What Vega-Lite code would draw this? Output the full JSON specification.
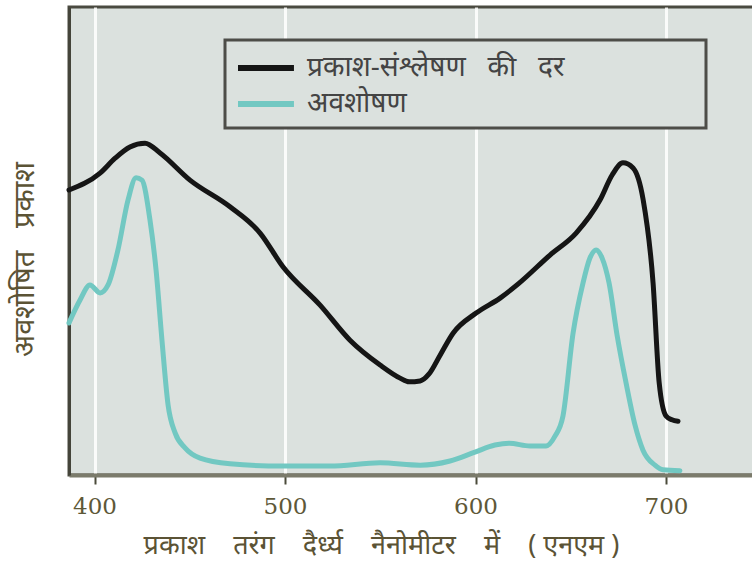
{
  "$schema": "https://vega.github.io/schema/vega-lite/v6.json",
  "autosize": {"type": "none"},
  "width": 690,
  "height": 468,
  "padding": {"left": 69, "top": 7, "right": 0, "bottom": 91},
  "background": "#ffffff",
  "config": {
    "view": {"fill": "#dbe1de", "stroke": "#4a4a40", "strokeWidth": 3},
    "font": "Noto Sans",
    "legend": {"strokeWidth": 3}
  },
  "data": {"values": [
    {"nm": 386.6, "v": 60.9, "s": "प्रकाश-संश्लेषण की दर"},
    {"nm": 402.9, "v": 64.5, "s": "प्रकाश-संश्लेषण की दर"},
    {"nm": 410.8, "v": 67.7, "s": "प्रकाश-संश्लेषण की दर"},
    {"nm": 418.6, "v": 70.1, "s": "प्रकाश-संश्लेषण की दर"},
    {"nm": 426.5, "v": 70.9, "s": "प्रकाश-संश्लेषण की दर"},
    {"nm": 434.4, "v": 68.8, "s": "प्रकाश-संश्लेषण की दर"},
    {"nm": 450.1, "v": 63.0, "s": "प्रकाश-संश्लेषण की दर"},
    {"nm": 471.1, "v": 57.3, "s": "प्रकाश-संश्लेषण की दर"},
    {"nm": 486.9, "v": 51.7, "s": "प्रकाश-संश्लेषण की दर"},
    {"nm": 498.9, "v": 44.5, "s": "प्रकाश-संश्लेषण की दर"},
    {"nm": 518.4, "v": 36.3, "s": "प्रकाश-संश्लेषण की दर"},
    {"nm": 534.1, "v": 28.8, "s": "प्रकाश-संश्लेषण की दर"},
    {"nm": 549.9, "v": 23.5, "s": "प्रकाश-संश्लेषण की दर"},
    {"nm": 560.4, "v": 20.7, "s": "प्रकाश-संश्लेषण की दर"},
    {"nm": 565.1, "v": 19.9, "s": "प्रकाश-संश्लेषण की दर"},
    {"nm": 570.9, "v": 20.1, "s": "प्रकाश-संश्लेषण की दर"},
    {"nm": 575.6, "v": 21.6, "s": "प्रकाश-संश्लेषण की दर"},
    {"nm": 581.4, "v": 25.6, "s": "प्रकाश-संश्लेषण की दर"},
    {"nm": 588.2, "v": 30.3, "s": "प्रकाश-संश्लेषण की दर"},
    {"nm": 600.3, "v": 34.6, "s": "प्रकाश-संश्लेषण की दर"},
    {"nm": 612.9, "v": 37.8, "s": "प्रकाश-संश्लेषण की दर"},
    {"nm": 622.9, "v": 41.0, "s": "प्रकाश-संश्लेषण की दर"},
    {"nm": 639.1, "v": 47.0, "s": "प्रकाश-संश्लेषण की दर"},
    {"nm": 652.8, "v": 51.7, "s": "प्रकाश-संश्लेषण की दर"},
    {"nm": 665.4, "v": 58.8, "s": "प्रकाश-संश्लेषण की दर"},
    {"nm": 671.7, "v": 64.1, "s": "प्रकाश-संश्लेषण की दर"},
    {"nm": 677.4, "v": 66.7, "s": "प्रकाश-संश्लेषण की दर"},
    {"nm": 682.7, "v": 65.6, "s": "प्रकाश-संश्लेषण की दर"},
    {"nm": 688.0, "v": 58.8, "s": "प्रकाश-संश्लेषण की दर"},
    {"nm": 693.2, "v": 41.0, "s": "प्रकाश-संश्लेषण की दर"},
    {"nm": 696.4, "v": 19.7, "s": "प्रकाश-संश्लेषण की दर"},
    {"nm": 700.0, "v": 12.6, "s": "प्रकाश-संश्लेषण की दर"},
    {"nm": 703.1, "v": 11.8, "s": "प्रकाश-संश्लेषण की दर"},
    {"nm": 706.3, "v": 11.5, "s": "प्रकाश-संश्लेषण की दर"},
    {"nm": 386.6, "v": 32.5, "s": "अवशोषण"},
    {"nm": 392.4, "v": 37.4, "s": "अवशोषण"},
    {"nm": 397.6, "v": 40.6, "s": "अवशोषण"},
    {"nm": 402.9, "v": 38.9, "s": "अवशोषण"},
    {"nm": 407.1, "v": 40.6, "s": "अवशोषण"},
    {"nm": 412.3, "v": 48.1, "s": "अवशोषण"},
    {"nm": 417.6, "v": 58.8, "s": "अवशोषण"},
    {"nm": 421.8, "v": 63.5, "s": "अवशोषण"},
    {"nm": 424.9, "v": 63.0, "s": "अवशोषण"},
    {"nm": 429.1, "v": 54.5, "s": "अवशोषण"},
    {"nm": 432.3, "v": 43.8, "s": "अवशोषण"},
    {"nm": 435.4, "v": 28.8, "s": "अवशोषण"},
    {"nm": 438.6, "v": 15.0, "s": "अवशोषण"},
    {"nm": 442.3, "v": 9.0, "s": "अवशोषण"},
    {"nm": 447.5, "v": 5.8, "s": "अवशोषण"},
    {"nm": 455.4, "v": 3.6, "s": "अवशोषण"},
    {"nm": 471.1, "v": 2.4, "s": "अवशोषण"},
    {"nm": 498.9, "v": 1.9, "s": "अवशोषण"},
    {"nm": 523.6, "v": 1.9, "s": "अवशोषण"},
    {"nm": 549.9, "v": 2.6, "s": "अवशोषण"},
    {"nm": 570.9, "v": 2.1, "s": "अवशोषण"},
    {"nm": 586.6, "v": 3.0, "s": "अवशोषण"},
    {"nm": 599.7, "v": 4.9, "s": "अवशोषण"},
    {"nm": 610.2, "v": 6.4, "s": "अवशोषण"},
    {"nm": 617.6, "v": 6.8, "s": "अवशोषण"},
    {"nm": 628.6, "v": 6.2, "s": "अवशोषण"},
    {"nm": 637.0, "v": 6.2, "s": "अवशोषण"},
    {"nm": 641.7, "v": 8.3, "s": "अवशोषण"},
    {"nm": 645.9, "v": 12.6, "s": "अवशोषण"},
    {"nm": 651.2, "v": 30.3, "s": "अवशोषण"},
    {"nm": 656.4, "v": 41.0, "s": "अवशोषण"},
    {"nm": 660.1, "v": 46.4, "s": "अवशोषण"},
    {"nm": 663.3, "v": 48.1, "s": "अवशोषण"},
    {"nm": 666.4, "v": 46.4, "s": "अवशोषण"},
    {"nm": 670.1, "v": 41.0, "s": "अवशोषण"},
    {"nm": 674.3, "v": 29.9, "s": "अवशोषण"},
    {"nm": 679.0, "v": 19.7, "s": "अवशोषण"},
    {"nm": 683.7, "v": 10.7, "s": "अवशोषण"},
    {"nm": 687.9, "v": 5.3, "s": "अवशोषण"},
    {"nm": 694.2, "v": 2.1, "s": "अवशोषण"},
    {"nm": 698.4, "v": 1.1, "s": "अवशोषण"},
    {"nm": 707.3, "v": 0.9, "s": "अवशोषण"}
  ]},
  "mark": {"type": "line", "interpolate": "monotone", "strokeWidth": 5, "strokeCap": "round", "strokeJoin": "round"},
  "encoding": {
    "x": {
      "field": "nm", "type": "quantitative",
      "scale": {"domain": [386.6, 748.8], "nice": false, "zero": false},
      "axis": {
        "values": [400, 500, 600, 700],
        "title": "प्रकाश\u00a0\u00a0\u00a0\u00a0तरंग\u00a0\u00a0\u00a0\u00a0दैर्ध्य\u00a0\u00a0\u00a0\u00a0नैनोमीटर\u00a0\u00a0\u00a0\u00a0में\u00a0\u00a0\u00a0\u00a0(\u00a0एनएम\u00a0)",
        "titleFontSize": 27, "titleFontWeight": "normal", "titleColor": "#5b5335",
        "titleX": 312, "titleY": 70, "titleAnchor": "middle", "titleBaseline": "middle",
        "labelFont": "DejaVu Serif", "labelFontSize": 23, "labelColor": "#5e5838", "labelPadding": 11,
        "domainColor": "#7b7b6b", "domainWidth": 4,
        "tickColor": "#4a4a3a", "tickWidth": 2, "tickSize": 9,
        "grid": true, "gridColor": "#ffffff", "gridWidth": 3, "gridOpacity": 0.85
      }
    },
    "y": {
      "field": "v", "type": "quantitative",
      "scale": {"domain": [0, 100], "nice": false},
      "axis": {
        "title": "अवशोषित\u00a0\u00a0\u00a0प्रकाश",
        "titleFontSize": 29, "titleFontWeight": "normal", "titleColor": "#5b5335",
        "titleY": 252, "titlePadding": 30,
        "labels": false, "ticks": false, "grid": false,
        "domainColor": "#44443a", "domainWidth": 3
      }
    },
    "color": {
      "field": "s", "type": "nominal",
      "scale": {"domain": ["प्रकाश-संश्लेषण की दर", "अवशोषण"], "range": ["#151515", "#72c8c2"]},
      "legend": {
        "title": null, "orient": "none", "legendX": 156, "legendY": 33,
        "symbolType": "M-1,0L2.73,0", "symbolSize": 900, "symbolStrokeWidth": 6,
        "labelFontSize": 28, "labelColor": "#444444", "labelLimit": 900,
        "labelExpr": "replace(replace(datum.label, ' ', '\u00a0\u00a0\u00a0'), ' ', '\u00a0\u00a0\u00a0') + '\u00a0\u00a0\u00a0\u00a0\u00a0\u00a0\u00a0\u00a0\u00a0\u00a0\u00a0\u00a0\u00a0\u00a0\u00a0\u00a0\u00a0\u00a0\u200b'",
        "strokeColor": "#4d4d48", "fillColor": "#dbe1de",
        "padding": 10, "rowPadding": 4, "labelOffset": 36
      }
    }
  }
}
